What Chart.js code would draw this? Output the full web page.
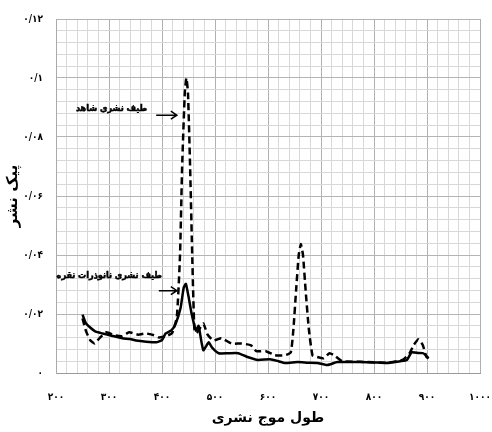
<!DOCTYPE html>
<html>
<head>
<meta charset="utf-8">
<script src="https://cdn.jsdelivr.net/npm/chart.js@4.4.1/dist/chart.umd.min.js"></script>
<style>
html,body{margin:0;padding:0;background:#fff;}
#wrap{width:492px;height:432px;}
</style>
</head>
<body>
<div id="wrap"><canvas id="c" width="492" height="432"></canvas></div>
<script>
// ---- data ----
const silverX = [250,256,264,275,288,305,325,340,351,370,389,400,407,418,426,435,441,445,450,456,464,469,474,478,483,488,495,507,525,544,560,581,604,620,632,656,675,693,712,731,774,800,824,850,862,871,884,893,903];
const silverY = [0.0198,0.0170,0.0155,0.0140,0.0134,0.0126,0.0118,0.0115,0.0110,0.0106,0.0104,0.0112,0.0134,0.0145,0.0168,0.0220,0.0290,0.0302,0.0260,0.0200,0.0144,0.0160,0.0110,0.0077,0.0090,0.0104,0.0085,0.0067,0.0067,0.0067,0.0055,0.0044,0.0047,0.0040,0.0034,0.0037,0.0035,0.0034,0.0027,0.0037,0.0037,0.0036,0.0034,0.0040,0.0044,0.0070,0.0068,0.0067,0.0050];
const controlX = [250,257,265,273,283,295,310,325,338,355,370,385,394,407,419,428,434,438,443,446,449,453,457,461,465,471,478,486,497,512,531,550,568,578,596,613,632,643,648,653,658,662,666,671,677,684,693,705,716,725,740,774,824,855,867,875,884,892,899,903];
const controlY = [0.0185,0.0140,0.0110,0.0100,0.0120,0.0138,0.0128,0.0125,0.0138,0.0130,0.0134,0.0128,0.0120,0.0125,0.0135,0.0190,0.0400,0.0700,0.0950,0.1000,0.0950,0.0700,0.0400,0.0150,0.0135,0.0150,0.0168,0.0130,0.0110,0.0118,0.0100,0.0100,0.0094,0.0074,0.0074,0.0060,0.0060,0.0070,0.0150,0.0280,0.0400,0.0437,0.0400,0.0280,0.0150,0.0060,0.0054,0.0050,0.0067,0.0060,0.0040,0.0038,0.0035,0.0045,0.0067,0.0095,0.0114,0.0095,0.0054,0.0050];
const xTickValues = [200,300,400,500,600,700,800,900,1000];
const xTickLabels = ['۲۰۰','۳۰۰','۴۰۰','۵۰۰','۶۰۰','۷۰۰','۸۰۰','۹۰۰','۱۰۰۰'];
const yTickValues = [0,0.02,0.04,0.06,0.08,0.1,0.12];
const yTickLabels = ['۰','۰/۰۲','۰/۰۴','۰/۰۶','۰/۰۸','۰/۱','۰/۱۲'];
const xTitle = 'طول موج نشری';
const yTitle = 'پیک نشر';
const controlLabel = 'طیف نشری شاهد';
const silverLabel = 'طیف نشری نانوذرات نقره';

const FONT = "'DejaVu Sans', sans-serif";
const FONTC = "'DejaVu Sans Condensed', 'DejaVu Sans', sans-serif";
const toPts = (xs, ys) => xs.map((x, i) => ({x: x, y: ys[i]}));

function xLabel(v){ const i = xTickValues.indexOf(Math.round(v)); return i >= 0 ? xTickLabels[i] : ''; }
function yLabel(v){ const i = yTickValues.findIndex(t => Math.abs(t - v) < 1e-6); return i >= 0 ? yTickLabels[i] : ''; }
function xMajor(v){ return xTickValues.indexOf(Math.round(v)) >= 0; }
function yMajor(v){ return yTickValues.some(t => Math.abs(t - v) < 1e-6); }

// annotation plugin (positions via the chart scales)
const annotations = [
  {text: controlLabel, textX: 372, textY: 0.0895, fromX: 389, toX: 428, arrowY: 0.0874},
  {text: silverLabel, textX: 400, textY: 0.0330, fromX: 394, toX: 428, arrowY: 0.0279}
];
const annotPlugin = {
  id: 'annot',
  afterDatasetsDraw(chart){
    const ctx = chart.ctx, xs = chart.scales.x, ys = chart.scales.y;
    ctx.save();
    ctx.fillStyle = '#000';
    ctx.strokeStyle = '#000';
    ctx.font = "bold 9px " + FONTC;
    ctx.textAlign = 'right';
    ctx.textBaseline = 'middle';
    ctx.direction = 'rtl';
    annotations.forEach(a => {
      const tx = xs.getPixelForValue(a.textX), ty = ys.getPixelForValue(a.textY);
      ctx.lineWidth = 0.5;
      ctx.fillText(a.text, tx, ty);
      ctx.strokeText(a.text, tx, ty);
      const x1 = xs.getPixelForValue(a.fromX), x2 = xs.getPixelForValue(a.toX), y = ys.getPixelForValue(a.arrowY);
      ctx.lineWidth = 1.5;
      ctx.beginPath();
      ctx.moveTo(x1, y); ctx.lineTo(x2, y);
      ctx.moveTo(x2 - 6, y - 4); ctx.lineTo(x2, y); ctx.lineTo(x2 - 6, y + 4);
      ctx.stroke();
    });
    ctx.restore();
  }
};

new Chart(document.getElementById('c'), {
  type: 'line',
  data: {
    datasets: [
      {label: controlLabel, data: toPts(controlX, controlY), borderColor: '#000', borderWidth: 2.5, borderDash: [7, 4], pointRadius: 0, tension: 0.15, fill: false},
      {label: silverLabel, data: toPts(silverX, silverY), borderColor: '#000', borderWidth: 2.5, pointRadius: 0, tension: 0.15, fill: false}
    ]
  },
  options: {
    responsive: false,
    animation: false,
    devicePixelRatio: 1,
    layout: {padding: {top: 16, right: 12, bottom: 0, left: 4}},
    plugins: {legend: {display: false}, tooltip: {enabled: false}},
    scales: {
      x: {
        type: 'linear', min: 200, max: 1000,
        afterFit(s){ s.height = 59; s.paddingRight = 0; s.paddingLeft = 0; },
        ticks: {stepSize: 20, autoSkip: false, maxRotation: 0, padding: 18, color: '#000',
          font: {family: FONTC, size: 10, weight: 'bold'}, callback: v => xLabel(v)},
        grid: {drawTicks: false, color: c => xMajor(c.tick.value) ? '#b0b0b0' : '#d8d8d8', lineWidth: 1},
        border: {color: '#999', width: 1},
        title: {display: true, text: xTitle, color: '#000', font: {family: FONT, size: 14, weight: 'bold'}, padding: {top: 2, bottom: 5}}
      },
      y: {
        type: 'linear', min: 0, max: 0.12,
        afterFit(s){ s.width = 52; },
        ticks: {stepSize: 0.004, autoSkip: false, padding: 13, color: '#000',
          font: {family: FONTC, size: 10, weight: 'bold'}, callback: v => yLabel(v)},
        grid: {drawTicks: false, color: c => yMajor(c.tick.value) ? '#b4b4b4' : '#d8d8d8', lineWidth: 1},
        border: {color: '#aaa', width: 1},
        title: {display: true, text: yTitle, color: '#000', font: {family: FONT, size: 15, weight: 'bold'}, padding: {top: 0, bottom: 0}}
      }
    }
  },
  plugins: [annotPlugin]
});
</script>
</body>
</html>
